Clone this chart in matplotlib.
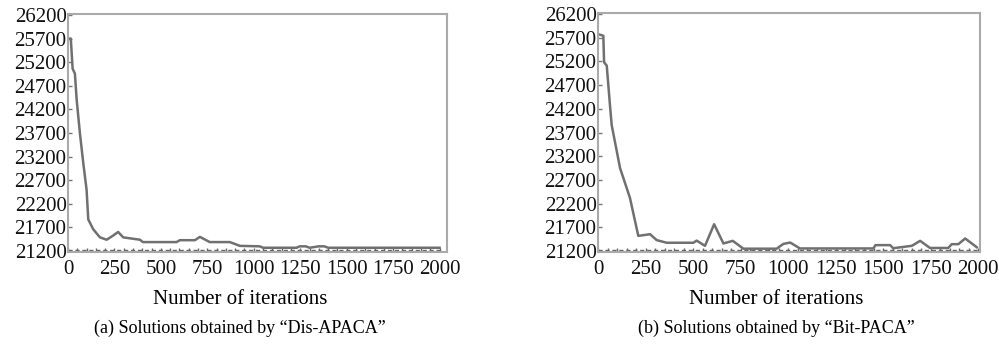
import matplotlib
matplotlib.use("Agg")
import matplotlib.pyplot as plt

plt.rcParams['font.family'] = ['Liberation Serif', 'DejaVu Serif']

# Data
xticks = [0, 250, 500, 750, 1000, 1250, 1500, 1750, 2000]
yticks = [21200, 21700, 22200, 22700, 23200, 23700, 24200, 24700, 25200, 25700, 26200]

dis_x = [0, 15, 25, 37, 47, 64, 82, 100, 109, 136, 172, 208, 240, 270, 297,
         387, 403, 584, 602, 683, 710, 763, 871, 925, 1032, 1050, 1230, 1247,
         1280, 1300, 1350, 1380, 1400, 2000]
dis_y = [25700, 25700, 25060, 24960, 24390, 23700, 23070, 22500, 21870, 21660,
         21490, 21440, 21520, 21605, 21490, 21440, 21390, 21390, 21430, 21430,
         21500, 21390, 21390, 21310, 21300, 21270, 21270, 21300, 21300, 21270,
         21300, 21300, 21270, 21270]

bit_x = [0, 28, 32, 46, 63, 72, 116, 168, 212, 274, 309, 362, 502, 519, 563,
         611, 660, 709, 765, 940, 975, 1011, 1063, 1449, 1460, 1537, 1553, 1651,
         1695, 1747, 1843, 1861, 1896, 1932, 1993]
bit_y = [25775, 25740, 25180, 25110, 24275, 23857, 22950, 22323, 21520, 21555,
         21430, 21375, 21375, 21420, 21310, 21765, 21360, 21415, 21250, 21250,
         21350, 21380, 21255, 21255, 21325, 21325, 21260, 21310, 21415, 21265,
         21265, 21345, 21345, 21465, 21280]

opt_x = list(range(0, 2001, 50))
opt_y = [21225] * len(opt_x)

xlabel = 'Number of iterations'
captions = ['(a) Solutions obtained by \u201cDis-APACA\u201d',
            '(b) Solutions obtained by \u201cBit-PACA\u201d']

W, H = 999, 349
fig = plt.figure(figsize=(W / 100, H / 100), dpi=100)

# (left, top, right, bottom, xmax, label-centre, caption-centre) in pixels
axes_px = [(68, 14, 447, 252, 2040, 240, 240), (598, 13, 980, 252, 2010, 776, 776)]
series = [(dis_x, dis_y), (bit_x, bit_y)]

for (x0, y0, x1, y1, xmax, lc, cc), (sx, sy), cap in zip(axes_px, series, captions):
    ax = fig.add_axes([x0 / W, 1 - y1 / H, (x1 - x0) / W, (y1 - y0) / H])
    ax.plot(opt_x, opt_y, color='#666666', lw=1.0, ls=(0, (3, 2)),
            marker='|', ms=3, mew=1.0)
    ax.plot(sx, sy, color='#707070', lw=1.8)
    ax.set_xlim(0, xmax)
    ax.set_ylim(21180, 26220)
    ax.set_xticks(xticks)
    ax.set_yticks(yticks)
    ax.tick_params(axis='x', length=0, labelsize=15, pad=6, labelcolor='#111111')
    ax.tick_params(axis='y', direction='in', length=3, width=1,
                   color='#777777', labelsize=15, pad=1, labelcolor='#111111')
    for s in ax.spines.values():
        s.set_color('#aaaaaa')
        s.set_linewidth(1.5)
    fig.text(lc / W, 1 - 299 / H, xlabel, ha='center', va='center', fontsize=15)
    fig.text(cc / W, 1 - 328 / H, cap, ha='center', va='center', fontsize=13)

fig.savefig('out.png', dpi=100)
